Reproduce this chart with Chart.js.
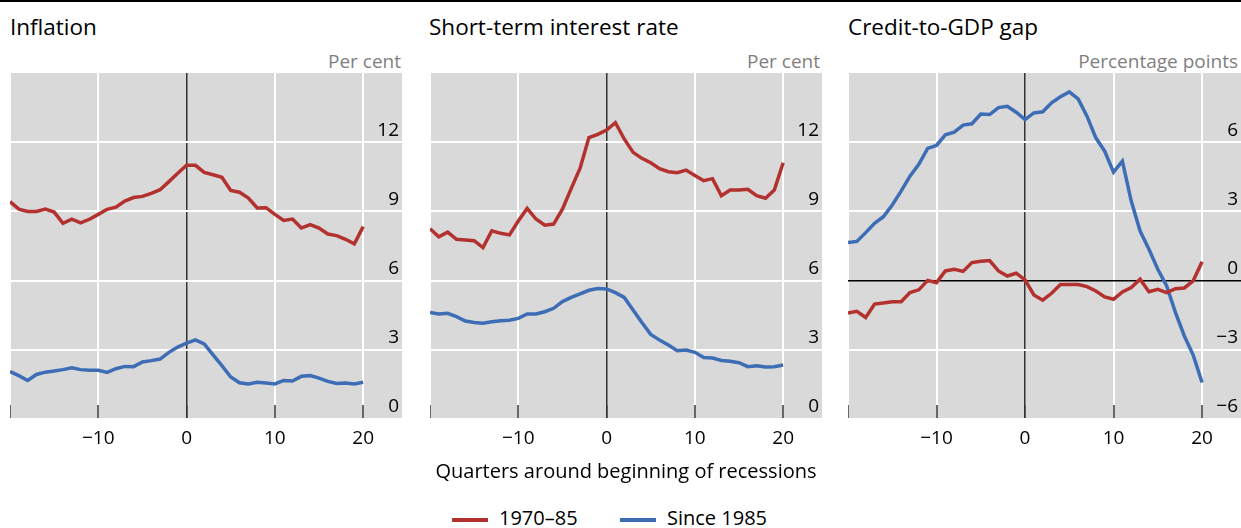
<!DOCTYPE html>
<html>
<head>
<meta charset="utf-8">
<script src="https://cdn.jsdelivr.net/npm/chart.js@4/dist/chart.umd.min.js"></script>
<style>
  body { margin: 0; background: #fff; font-family: "Open Sans", sans-serif; }
  #wrap { position: relative; width: 1241px; height: 528px; overflow: hidden; }
  .topline { position: absolute; left: 0; top: 0; width: 1241px; height: 2px; background: #000; }
  canvas { position: absolute; }
  .title { position: absolute; top: 11px; font-size: 22.5px; color: #000; white-space: nowrap; }
  .unit { position: absolute; top: 48px; font-size: 19px; color: #7f7f7f; white-space: nowrap; text-align: right; }
  .xtitle { position: absolute; top: 457px; left: 0; width: 1252px; text-align: center; font-size: 20px; color: #000; }
  .legend { position: absolute; top: 504px; font-size: 20px; color: #000; white-space: nowrap; }
  .legend span.sw { display: inline-block; width: 36px; height: 4px; vertical-align: middle; margin-right: 11px; }
</style>
</head>
<body>
<div id="wrap">
  <div class="topline"></div>
  <div class="title" style="left:10px">Inflation</div>
  <div class="title" style="left:429px">Short-term interest rate</div>
  <div class="title" style="left:848px">Credit-to-GDP gap</div>
  <div class="unit" style="right:840px">Per cent</div>
  <div class="unit" style="right:421px">Per cent</div>
  <div class="unit" style="right:3px">Percentage points</div>
  <canvas id="c1" width="392" height="386" style="left:10px;top:73px"></canvas>
  <canvas id="c2" width="392" height="386" style="left:430px;top:73px"></canvas>
  <canvas id="c3" width="393" height="386" style="left:848px;top:73px"></canvas>
  <div class="xtitle">Quarters around beginning of recessions</div>
  <div class="legend" style="left:452px"><span class="sw" style="background:#B3312E"></span>1970–85</div>
  <div class="legend" style="left:620px"><span class="sw" style="background:#3D6DB5"></span>Since 1985</div>
</div>
<script>
// quarters relative to the start of the recession
const quarters = [-20, -19, -18, -17, -16, -15, -14, -13, -12, -11, -10, -9, -8, -7, -6, -5, -4, -3, -2, -1,
                  0, 1, 2, 3, 4, 5, 6, 7, 8, 9, 10, 11, 12, 13, 14, 15, 16, 17, 18, 19, 20];

const inflation7085 = [9.42, 9.1, 9.0, 9.0, 9.1, 8.97, 8.48, 8.66, 8.5, 8.66, 8.87, 9.09, 9.18, 9.45, 9.6, 9.65, 9.78, 9.94, 10.29, 10.65,
                       11.0, 11.0, 10.69, 10.59, 10.48, 9.91, 9.83, 9.58, 9.15, 9.16, 8.87, 8.61, 8.67, 8.28, 8.43, 8.28, 8.02, 7.95, 7.79, 7.59, 8.34];
const inflationSince85 = [2.06, 1.88, 1.67, 1.93, 2.03, 2.08, 2.14, 2.22, 2.14, 2.11, 2.11, 2.02, 2.18, 2.28, 2.27, 2.47, 2.53, 2.6, 2.89, 3.12,
                          3.29, 3.43, 3.26, 2.78, 2.31, 1.82, 1.57, 1.52, 1.59, 1.56, 1.52, 1.67, 1.65, 1.85, 1.88, 1.77, 1.63, 1.54, 1.56, 1.52, 1.59];

const rate7085 = [8.25, 7.9, 8.1, 7.79, 7.76, 7.73, 7.43, 8.16, 8.05, 7.98, 8.58, 9.13, 8.67, 8.4, 8.45, 9.1, 10.0, 10.87, 12.2, 12.34,
                  12.53, 12.85, 12.14, 11.56, 11.3, 11.11, 10.85, 10.72, 10.68, 10.79, 10.56, 10.33, 10.42, 9.68, 9.93, 9.93, 9.96, 9.68, 9.57, 9.93, 11.11];
const rateSince85 = [4.62, 4.55, 4.58, 4.44, 4.25, 4.18, 4.15, 4.22, 4.26, 4.28, 4.36, 4.55, 4.55, 4.65, 4.8, 5.09, 5.27, 5.42, 5.58, 5.66,
                     5.64, 5.48, 5.27, 4.73, 4.18, 3.67, 3.42, 3.21, 2.96, 2.99, 2.89, 2.67, 2.64, 2.54, 2.5, 2.44, 2.27, 2.31, 2.25, 2.27, 2.34];

const gap7085 = [-1.41, -1.33, -1.6, -1.02, -0.97, -0.92, -0.92, -0.52, -0.4, 0.01, -0.09, 0.42, 0.49, 0.4, 0.78, 0.84, 0.87, 0.42, 0.2, 0.32,
                 0.03, -0.62, -0.85, -0.55, -0.17, -0.17, -0.17, -0.26, -0.45, -0.71, -0.81, -0.49, -0.3, 0.06, -0.48, -0.38, -0.52, -0.35, -0.32, -0.01, 0.82];
const gapSince85 = [1.65, 1.7, 2.08, 2.48, 2.77, 3.28, 3.88, 4.53, 5.04, 5.73, 5.86, 6.32, 6.44, 6.74, 6.8, 7.22, 7.2, 7.5, 7.56, 7.3,
                    6.98, 7.27, 7.32, 7.71, 7.97, 8.18, 7.88, 7.13, 6.19, 5.61, 4.7, 5.18, 3.45, 2.15, 1.36, 0.49, -0.23, -1.39, -2.4, -3.23, -4.42];

const xTicks = [-20, -10, 0, 10, 20];
const yTicksPct = [0, 3, 6, 9, 12];
const yTicksGap = [-6, -3, 0, 3, 6];

const RED = '#B3312E';
const BLUE = '#3D6DB5';
const FONT = '"Open Sans", sans-serif';

const fmt = v => v < 0 ? '\u2212' + Math.abs(v) : String(v);

// grey plot background
const plotBg = {
    id: 'plotBg',
    beforeDraw(chart) {
        const { ctx, chartArea: a } = chart;
        ctx.save();
        ctx.fillStyle = '#d9d9d9';
        ctx.fillRect(a.left, a.top, a.width, a.height);
        ctx.restore();
    }
};

function makePanel(id, red, blue, yMin, yMax, yTicks) {
    const toPts = vals => quarters.map((q, i) => ({ x: q, y: vals[i] }));
    return new Chart(document.getElementById(id).getContext('2d'), {
        type: 'line',
        data: {
            datasets: [
                { label: '1970–85', data: toPts(red), borderColor: RED, borderWidth: 3.5, pointRadius: 0, tension: 0 },
                { label: 'Since 1985', data: toPts(blue), borderColor: BLUE, borderWidth: 3.5, pointRadius: 0, tension: 0 }
            ]
        },
        options: {
            responsive: false,
            animation: false,
            devicePixelRatio: 1,
            layout: { padding: 0 },
            plugins: { legend: { display: false }, tooltip: { enabled: false } },
            scales: {
                x: {
                    type: 'linear',
                    min: -20,
                    max: 24.4,
                    afterBuildTicks: s => { s.ticks = xTicks.map(v => ({ value: v })); },
                    afterFit: s => { s.height = 40; s.paddingLeft = 0; s.paddingRight = 0; },
                    border: { display: false },
                    grid: {
                        color: c => (c.tick && c.tick.value === 0) ? '#333' : '#fff',
                        lineWidth: c => (c.tick && c.tick.value === 0) ? 1.5 : 2,
                        tickColor: '#333',
                        tickLength: -14,
                        tickWidth: 1.5
                    },
                    ticks: {
                        padding: 22,
                        color: '#000',
                        maxRotation: 0,
                        autoSkip: false,
                        font: { family: FONT, size: 19 },
                        callback: v => v === -20 ? '' : fmt(v)
                    }
                },
                y: {
                    position: 'right',
                    min: yMin,
                    max: yMax,
                    afterBuildTicks: s => { s.ticks = yTicks.map(v => ({ value: v })); },
                    afterFit: s => { s.width = 0; s.paddingTop = 0; s.paddingBottom = 0; },
                    border: { display: false },
                    grid: {
                        drawTicks: false,
                        color: c => (c.tick && c.tick.value === 0 && yMin < 0) ? '#000' : '#fff',
                        lineWidth: c => (c.tick && c.tick.value === 0 && yMin < 0) ? 1.5 : 2
                    },
                    ticks: {
                        mirror: true,
                        padding: -3,
                        labelOffset: -12,
                        color: '#000',
                        font: { family: FONT, size: 19 },
                        callback: v => fmt(v)
                    }
                }
            }
        },
        plugins: [plotBg]
    });
}

makePanel('c1', inflation7085, inflationSince85, 0, 15, yTicksPct);
makePanel('c2', rate7085, rateSince85, 0, 15, yTicksPct);
makePanel('c3', gap7085, gapSince85, -6, 9, yTicksGap);
</script>
</body>
</html>
